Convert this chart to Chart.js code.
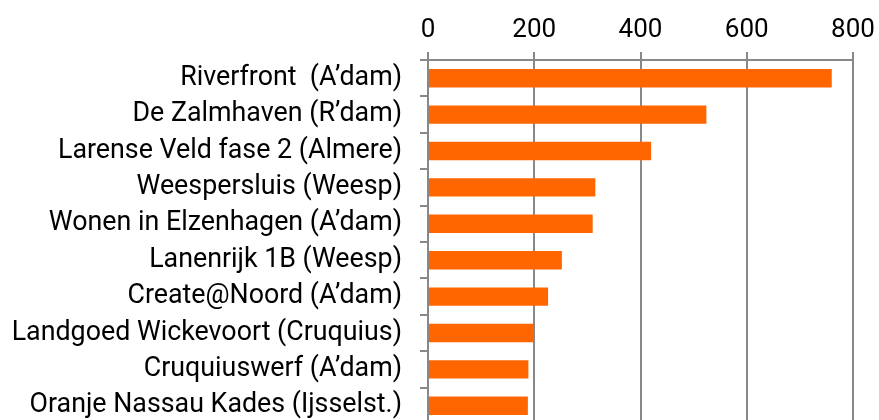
<!DOCTYPE html>
<html>
<head>
<meta charset="utf-8">
<script src="https://cdn.jsdelivr.net/npm/chart.js@4.4.0/dist/chart.umd.min.js"></script>
<style>
    html, body { margin: 0; padding: 0; overflow: hidden; background: #fff; }
    #wrap { position: relative; width: 879px; height: 424px; }
</style>
</head>
<body>
<div id="wrap"><canvas id="projects"></canvas></div>
<script>
    // Data
    const projects = [
        'Riverfront  (A\u2019dam)',
        'De Zalmhaven (R\u2019dam)',
        'Larense Veld fase 2 (Almere)',
        'Weespersluis (Weesp)',
        'Wonen in Elzenhagen (A\u2019dam)',
        'Lanenrijk 1B (Weesp)',
        'Create@Noord (A\u2019dam)',
        'Landgoed Wickevoort (Cruquius)',
        'Cruquiuswerf (A\u2019dam)',
        'Oranje Nassau Kades (Ijsselst.)'
    ];
    const counts = [760, 524, 420, 315, 310, 252, 226, 198, 189, 188];
    const xTicks = [0, 200, 400, 600, 800];

    const gridGray = '#888888';

    const ctx = document.getElementById('projects').getContext('2d');
    const projectChart = new Chart(ctx, {
        type: 'bar',
        data: {
            labels: projects,
            datasets: [{
                data: counts,
                backgroundColor: '#FF6600',
                borderWidth: 0,
                barPercentage: 0.505,
                categoryPercentage: 1
            }]
        },
        options: {
            indexAxis: 'y',
            responsive: true,
            maintainAspectRatio: false,
            animation: false,
            layout: { padding: { left: 0, right: 26, top: 0, bottom: 0 } },
            plugins: {
                legend: { display: false },
                tooltip: { enabled: false }
            },
            scales: {
                x: {
                    position: 'top',
                    min: 0,
                    max: 800,
                    afterBuildTicks: function (scale) {
                        scale.ticks = xTicks.map(v => ({ value: v }));
                    },
                    afterFit: function (scale) {
                        scale.height = 60;
                        scale.paddingLeft = 0;
                        scale.paddingRight = 0;
                    },
                    grid: { color: gridGray, lineWidth: 2, tickLength: 8 },
                    border: { color: gridGray, width: 2 },
                    ticks: {
                        color: '#000',
                        padding: 6,
                        font: { family: 'Roboto', size: 26 }
                    }
                },
                y: {
                    afterFit: function (scale) {
                        scale.width = 428;
                        scale.paddingTop = 0;
                        scale.paddingBottom = 0;
                    },
                    grid: { drawOnChartArea: false, color: gridGray, lineWidth: 2, tickLength: 8 },
                    border: { color: gridGray, width: 2 },
                    ticks: {
                        color: '#000',
                        padding: 18,
                        font: { family: 'Roboto', size: 26.8 }
                    }
                }
            }
        }
    });
</script>
</body>
</html>
